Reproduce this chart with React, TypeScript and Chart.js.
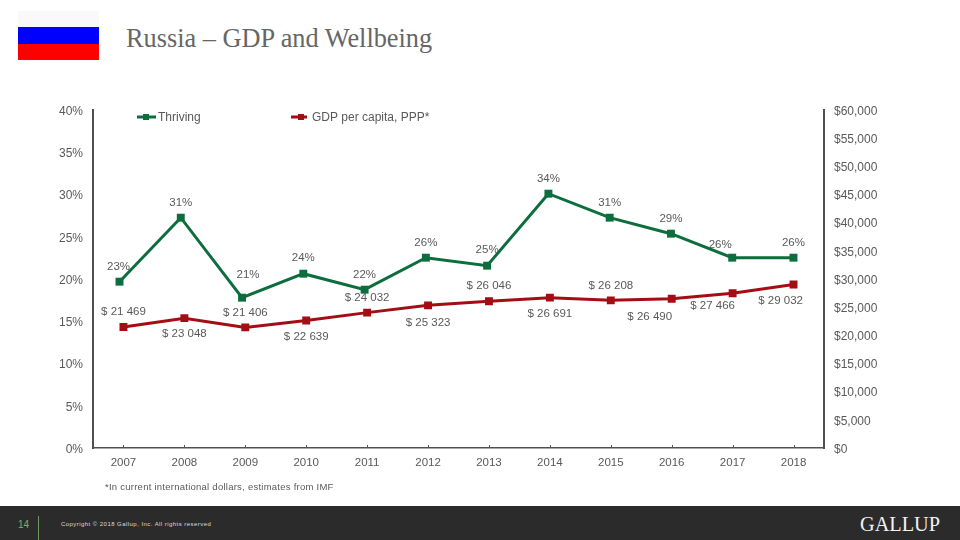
import { useEffect, useRef } from "react";
import { Chart, registerables } from "chart.js";

Chart.register(...registerables);

const years = ["2007", "2008", "2009", "2010", "2011", "2012", "2013", "2014", "2015", "2016", "2017", "2018"];
const yearNumbers = [2007, 2008, 2009, 2010, 2011, 2012, 2013, 2014, 2015, 2016, 2017, 2018];
const thriving = [23, 31, 21, 24, 22, 26, 25, 34, 31, 29, 26, 26];
const gdp = [21469, 23048, 21406, 22639, 24032, 25323, 26046, 26691, 26208, 26490, 27466, 29032];

// label nudges in px from each marker
const thrivingLabelOffsets = [[-1, -15], [0, -15], [6, -23], [0, -16], [0, -15], [0, -15], [0, -16], [0, -15], [0, -15], [0, -15], [-12, -13], [0, -15]];
const gdpLabelOffsets = [[0, -15], [0, 16], [0, -15], [0, 16], [0, -15], [0, 17], [0, -15], [0, 16], [0, -15], [-22, 18], [-20, 13], [-13, 16]];

const GREEN = "#0b6e3c";
const RED = "#a50d15";
const TEXT = "#595959";
const AXIS = "#505050";
const FONT = "'Liberation Sans', Arial, sans-serif";

const formatGdp = (v: number) => `$ ${Math.floor(v / 1000)} ${String(v % 1000).padStart(3, "0")}`;

// data labels, inner ticks and the legend are all drawn here
const annotations = {
  id: "annotations",
  afterDatasetsDraw(chart: any) {
    const { ctx, scales } = chart;
    ctx.save();

    ctx.strokeStyle = AXIS;
    ctx.lineWidth = 1;
    years.forEach((_, i) => {
      const x = Math.round(scales.x.getPixelForTick(i)) + 0.5;
      ctx.beginPath();
      ctx.moveTo(x, scales.x.top);
      ctx.lineTo(x, scales.x.top - 3);
      ctx.stroke();
    });

    ctx.font = `11.5px ${FONT}`;
    ctx.fillStyle = TEXT;
    ctx.textAlign = "center";
    ctx.textBaseline = "middle";
    chart.getDatasetMeta(0).data.forEach((pt: any, i: number) => {
      const [dx, dy] = thrivingLabelOffsets[i];
      ctx.fillText(`${thriving[i]}%`, pt.x + dx, pt.y + dy);
    });
    chart.getDatasetMeta(1).data.forEach((pt: any, i: number) => {
      const [dx, dy] = gdpLabelOffsets[i];
      ctx.fillText(formatGdp(gdp[i]), pt.x + dx, pt.y + dy);
    });

    const legend = [
      { text: "Thriving", color: GREEN, x0: 137, x1: 156, mark: 146, textX: 158 },
      { text: "GDP per capita, PPP*", color: RED, x0: 291, x1: 307, mark: 301, textX: 312 },
    ];
    ctx.font = `12px ${FONT}`;
    ctx.textAlign = "left";
    legend.forEach((item) => {
      ctx.strokeStyle = item.color;
      ctx.fillStyle = item.color;
      ctx.lineWidth = 3;
      ctx.beginPath();
      ctx.moveTo(item.x0, 117);
      ctx.lineTo(item.x1, 117);
      ctx.stroke();
      ctx.fillRect(item.mark - 3, 114, 6, 6);
      ctx.fillStyle = TEXT;
      ctx.fillText(item.text, item.textX, 117.5);
    });

    ctx.restore();
  },
};

export default function App() {
  const chartRef = useRef<HTMLCanvasElement>(null);

  useEffect(() => {
    if (!chartRef.current) return;
    const tickFont = { family: FONT, size: 11.5 };
    const sideFont = { family: FONT, size: 12 };

    const chart = new Chart(chartRef.current, {
      type: "line",
      data: {
        labels: years,
        datasets: [
          {
            label: "Thriving",
            data: thriving.map((v, i) => ({ x: yearNumbers[i], y: v })),
            xAxisID: "xThriving",
            yAxisID: "yThriving",
            borderColor: GREEN,
            backgroundColor: GREEN,
            borderWidth: 3,
            pointStyle: "rect",
            pointRadius: 5.6,
            pointBorderWidth: 0,
            tension: 0,
          },
          {
            label: "GDP per capita, PPP*",
            data: gdp,
            xAxisID: "x",
            yAxisID: "yRight",
            borderColor: RED,
            backgroundColor: RED,
            borderWidth: 3,
            pointStyle: "rect",
            pointRadius: 5.6,
            pointBorderWidth: 0,
            tension: 0,
          },
        ],
      },
      options: {
        animation: false,
        responsive: false,
        layout: { padding: { top: 110, left: 0, right: 0, bottom: 0 } },
        plugins: { legend: { display: false }, title: { display: false }, tooltip: { enabled: false } },
        scales: {
          x: {
            type: "category",
            offset: true,
            grid: { display: false, drawTicks: false },
            border: { display: true, color: AXIS, width: 1.5 },
            ticks: { color: TEXT, font: tickFont, padding: 8, maxRotation: 0, autoSkip: false },
            afterFit: (s: any) => { s.height = 92; },
          },
          // the green line sits a little off the category ticks and off the printed % axis in the source
          xThriving: { type: "linear", display: false, min: 2006.5675, max: 2018.498 },
          yThriving: { type: "linear", display: false, min: 2.21, max: 44.46 },
          yLeft: {
            type: "linear",
            position: "left",
            min: 0,
            max: 40,
            grid: { display: false, drawTicks: false },
            border: { display: true, color: AXIS, width: 2 },
            ticks: { stepSize: 5, color: TEXT, font: sideFont, padding: 10, labelOffset: 1.5, callback: (v: any) => `${v}%` },
            afterFit: (s: any) => { s.width = 93; },
          },
          yRight: {
            type: "linear",
            position: "right",
            min: 0,
            max: 60000,
            grid: { display: false, drawTicks: false },
            border: { display: true, color: AXIS, width: 2 },
            ticks: { stepSize: 5000, color: TEXT, font: sideFont, padding: 10, labelOffset: 1.5, callback: (v: any) => `$${Number(v).toLocaleString("en-US")}` },
            afterFit: (s: any) => { s.width = 136; },
          },
        },
      },
      plugins: [annotations],
    } as any);

    return () => chart.destroy();
  }, []);

  return (
    <div style={{ position: "absolute", left: 0, top: 0, width: 960, height: 540, background: "#fff", overflow: "hidden" }}>
      <div style={{ position: "absolute", left: 18, top: 11, width: 81, height: 16, background: "#f9f9f9" }} />
      <div style={{ position: "absolute", left: 18, top: 27, width: 81, height: 17, background: "#0000ff" }} />
      <div style={{ position: "absolute", left: 18, top: 44, width: 81, height: 16, background: "#ff0000" }} />
      <div style={{ position: "absolute", left: 126, top: 24, fontFamily: "'Liberation Serif', serif", fontSize: 26.3, lineHeight: "30px", color: "#666", whiteSpace: "nowrap" }}>
        Russia – GDP and Wellbeing
      </div>
      <canvas ref={chartRef} width={960} height={540} style={{ position: "absolute", left: 0, top: 0 }} />
      <div style={{ position: "absolute", left: 105, top: 481, fontFamily: FONT, fontSize: 9.5, lineHeight: "12px", letterSpacing: 0.25, color: TEXT, whiteSpace: "nowrap" }}>
        *In current international dollars, estimates from IMF
      </div>
      <div style={{ position: "absolute", left: 0, top: 506, width: 960, height: 34, background: "#2b2b2b" }}>
        <div style={{ position: "absolute", left: 18, top: 13, fontFamily: FONT, fontSize: 10, lineHeight: "12px", color: "#7fae6e" }}>14</div>
        <div style={{ position: "absolute", left: 38, top: 10, width: 1, height: 24, background: "#6f9a5f" }} />
        <div style={{ position: "absolute", left: 61, top: 13, fontFamily: FONT, fontSize: 6, lineHeight: "10px", letterSpacing: 0.45, color: "#dcdcdc", whiteSpace: "nowrap" }}>
          Copyright © 2018 Gallup, Inc. All rights reserved
        </div>
        <div style={{ position: "absolute", left: 860, top: 7, fontFamily: "'Liberation Serif', serif", fontSize: 20.3, lineHeight: "22px", color: "#f2f2f2", whiteSpace: "nowrap" }}>
          GALLUP
        </div>
      </div>
    </div>
  );
}
